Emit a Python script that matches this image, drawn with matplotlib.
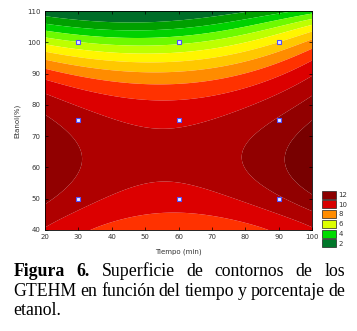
import numpy as np
import matplotlib.pyplot as plt
from matplotlib.patches import Rectangle

# readings of the response surface (GTEHM) along three time columns
tiempo_cols = [20, 60, 100]
etanol_rows = [110, 105, 100, 95, 90, 85, 80, 75, 70, 65, 60, 55, 50, 45, 40]
gtehm_t20 = [1.4, 3.5, 5.6, 7.8, 9.55, 10.75, 11.55, 12.15, 12.6, 12.85, 12.85, 12.6, 12.2, 11.6, 10.9]
gtehm_t60 = [0.95, 2.85, 4.7, 6.5, 8.3, 9.4, 10.2, 10.8, 11.15, 11.3, 11.25, 11.0, 10.55, 9.9, 9.3]
gtehm_t100 = [3.55, 6.0, 8.6, 9.9, 10.75, 11.55, 12.4, 13.1, 13.55, 13.85, 13.75, 13.4, 12.85, 11.8, 10.85]

# experimental design points
design_tiempo = [30, 60, 90, 30, 60, 90, 30, 60, 90]
design_etanol = [100, 100, 100, 75, 75, 75, 50, 50, 50]

levels = [2, 3, 4, 5, 6, 7, 8, 9, 10, 11, 12, 13]
band_colors = ['#006e28', '#00a000', '#00d200', '#6efa00', '#beff00', '#fff500',
               '#ffc800', '#ff8c00', '#ff3200', '#dc0000', '#af0000', '#910000', '#780000']

legend_values = [12, 10, 8, 6, 4, 2]
legend_colors = ['#8c0000', '#d70000', '#ff8c00', '#dcff00', '#00dc00', '#00782a']


def fit_surface():
    x = np.repeat([tiempo_cols], len(etanol_rows), axis=0).T.ravel()
    y = np.tile(etanol_rows, len(tiempo_cols))
    z = np.concatenate([gtehm_t20, gtehm_t60, gtehm_t100])
    u = (x - 60) / 40.0
    v = (y - 75) / 35.0
    V = np.polynomial.polynomial.polyvander2d(u, v, [2, 6])
    coef, *_ = np.linalg.lstsq(V, z, rcond=None)
    return coef.reshape(3, 7)


def main():
    coef = fit_surface()
    gx = np.linspace(20, 100, 321)
    gy = np.linspace(40, 110, 281)
    GX, GY = np.meshgrid(gx, gy)
    Z = np.polynomial.polynomial.polyval2d((GX - 60) / 40.0, (GY - 75) / 35.0, coef)

    fig = plt.figure(figsize=(3.57, 3.31), dpi=100)
    ax = fig.add_axes([45 / 357, 101 / 331, 267 / 357, 219 / 331])
    bounds = [min(Z.min(), 0) - 1] + levels + [Z.max() + 1]
    ax.contourf(GX, GY, Z, levels=bounds, colors=band_colors, antialiased=True)
    ax.plot(design_tiempo, design_etanol, 's', ms=2.6, mfc='#e8e8ff',
            mec='#5050ff', mew=0.8, ls='none')

    ax.set_xlim(20, 100)
    ax.set_ylim(40, 110)
    ax.set_xticks(range(20, 101, 10))
    ax.set_yticks(range(40, 111, 10))
    ax.tick_params(direction='in', length=2, width=0.5, labelsize=5,
                   labelcolor='#333333', top=True, right=True, pad=3)
    for s in ax.spines.values():
        s.set_linewidth(0.6)
    ax.set_xlabel('Tiempo (min)', fontsize=5, color='#333333', labelpad=6)
    ax.set_ylabel('Etanol(%)', fontsize=5, color='#333333', labelpad=5)

    # legend boxes
    lax = fig.add_axes([0, 0, 1, 1], facecolor='none')
    lax.set_xlim(0, 357)
    lax.set_ylim(331, 0)
    lax.axis('off')
    for i, (val, col) in enumerate(zip(legend_values, legend_colors)):
        top = 190.5 + i * 9.75
        lax.add_patch(Rectangle((322, top), 14, 8.2, facecolor=col,
                                edgecolor='#222222', linewidth=0.5))
        lax.text(338.5, top + 4.3, str(val), fontsize=5, color='#333333',
                 va='center', ha='left')

    # justified caption
    fig.canvas.draw()
    renderer = fig.canvas.get_renderer()
    lines = [
        [('Figura', 'bold'), ('6.', 'bold'), ('Superficie', 'normal'), ('de', 'normal'),
         ('contornos', 'normal'), ('de', 'normal'), ('los', 'normal')],
        [('GTEHM', 'normal'), ('en', 'normal'), ('función', 'normal'), ('del', 'normal'),
         ('tiempo', 'normal'), ('y', 'normal'), ('porcentaje', 'normal'), ('de', 'normal')],
        [('etanol.', 'normal')],
    ]
    left, right = 13.5, 345.0
    baselines = [276.0, 295.5, 315.0]
    for words, base in zip(lines, baselines):
        texts = [lax.text(0, base, w, fontsize=12.8, fontweight=wt, va='baseline',
                          family='Liberation Serif', color='black') for w, wt in words]
        widths = [t.get_window_extent(renderer).width for t in texts]
        gap = (right - left - sum(widths)) / (len(texts) - 1) if len(texts) > 1 else 0
        x = left
        for t, w in zip(texts, widths):
            t.set_x(x)
            x += w + gap

    fig.savefig('out.png', dpi=100)


if __name__ == '__main__':
    main()
